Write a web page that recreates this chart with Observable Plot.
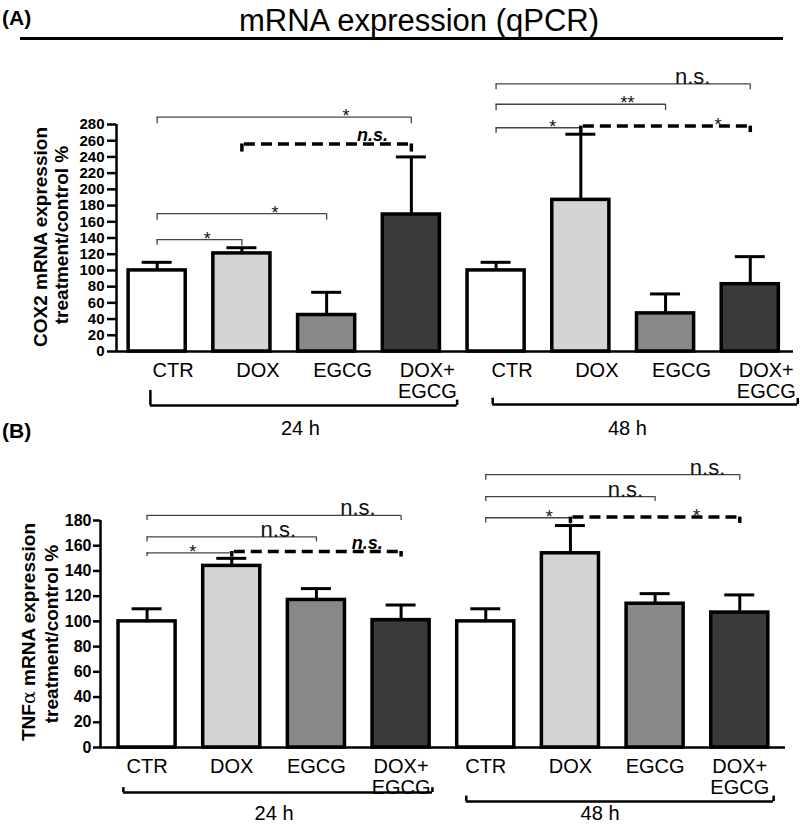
<!DOCTYPE html>
<html>
<head>
<meta charset="utf-8">
<script src="https://cdn.jsdelivr.net/npm/d3@7"></script>
<script src="https://cdn.jsdelivr.net/npm/@observablehq/plot@0.6"></script>
<style>
  body { margin: 0; background: #fff; font-family: "Liberation Sans", Arial, sans-serif; }
  #page { position: relative; width: 800px; height: 824px; overflow: hidden; background: #fff; }
  .abs { position: absolute; line-height: 1; white-space: nowrap; color: #000; }
  .ylab { position: absolute; font-weight: bold; font-size: 19px; line-height: 1; white-space: nowrap;
          transform: translate(-50%, -50%) rotate(-90deg); color: #000; }
</style>
</head>
<body>
<div id="page">
  <div class="abs" style="left:2px;top:7px;font-weight:bold;font-size:21px;">(A)</div>
  <div class="abs" style="left:0;top:5px;width:838px;text-align:center;font-size:31px;">mRNA expression (qPCR)</div>
  <div class="abs" style="left:20px;top:37px;width:763px;height:3px;background:#000;"></div>
  <div id="plotA" class="abs" style="left:0;top:40px;"></div>
  <div class="abs" style="left:2px;top:420px;font-weight:bold;font-size:21px;">(B)</div>
  <div id="plotB" class="abs" style="left:0;top:445px;"></div>
  <div class="ylab" style="left:40px;top:237px;">COX2 mRNA expression</div>
  <div class="ylab" style="left:61px;top:235px;">treatment/control %</div>
  <div class="ylab" style="left:28px;top:632px;">TNF<span style="font-family:'DejaVu Serif',serif;font-weight:normal;">α</span> mRNA expression</div>
  <div class="ylab" style="left:51px;top:634px;">treatment/control %</div>
</div>
<script>
// ---------- data ----------
const treatments = ["CTR", "DOX", "EGCG", "DOX+\nEGCG"];
const timepoints = ["24 h", "48 h"];

// COX2 (panel A): mean and SEM, order CTR, DOX, EGCG, DOX+EGCG at 24 h then 48 h
const cox2Mean = [100, 121, 45, 169, 100, 187, 47, 83];
const cox2Sem  = [10, 7, 28, 71, 10, 81, 24, 34];
// TNFα (panel B)
const tnfMean = [100, 144, 117, 101, 100, 154, 114, 107];
const tnfSem  = [10, 6, 9, 12, 10, 22, 8, 14];

const yTicksA = [0, 20, 40, 60, 80, 100, 120, 140, 160, 180, 200, 220, 240, 260, 280];
const yTicksB = [0, 20, 40, 60, 80, 100, 120, 140, 160, 180];

// significance comparisons: from/to bar index, label, kind
const cox2Comparisons = [
  {from: 0, to: 3, label: "*", kind: "star"},
  {from: 1, to: 3, label: "n.s.", kind: "nsBold"},
  {from: 0, to: 2, label: "*", kind: "star"},
  {from: 0, to: 1, label: "*", kind: "star"},
  {from: 4, to: 7, label: "n.s.", kind: "ns"},
  {from: 4, to: 6, label: "**", kind: "star"},
  {from: 4, to: 5, label: "*", kind: "star"},
  {from: 5, to: 7, label: "*", kind: "starBold"}
];
// bracket heights (y units): level, left tip end, right tip end, label position
const cox2Levels = [
  [289, 281, 281, 2.23], [256, 246, 246, 2.54], [170, 162, 162, 1.39], [138, 131, 130, 0.59],
  [330, 323, 323, 6.32], [305, 297, 297, 5.55], [276, 269, 269, 4.67], [278, 269, 270, 6.62]
];
const tnfComparisons = [
  {from: 0, to: 3, label: "n.s.", kind: "ns"},
  {from: 0, to: 2, label: "n.s.", kind: "ns"},
  {from: 0, to: 1, label: "*", kind: "star"},
  {from: 1, to: 3, label: "n.s.", kind: "nsBold"},
  {from: 4, to: 7, label: "n.s.", kind: "ns"},
  {from: 4, to: 6, label: "n.s.", kind: "ns"},
  {from: 4, to: 5, label: "*", kind: "star"},
  {from: 5, to: 7, label: "*", kind: "starBold"}
];
const tnfLevels = [
  [184, 180, 180, 2.49], [167, 163, 163, 1.55], [154.4, 151.5, 150, 0.54], [155.4, 151, 151, 2.6],
  [216.4, 212, 212, 6.62], [199, 195, 195, 5.65], [182.2, 178, 176, 4.75], [182.7, 177.7, 177.7, 6.49]
];
// time-group brackets below the axis: [from, to, level, left tip, right tip, label x, label level]
const groupA = [[-0.08, 3.54, -66.6, -48, -60, 1.69, -85], [3.96, 7.56, -65.4, -57.6, -58, 5.55, -85]];
const groupB = [[-0.28, 3.37, -35.7, -31.8, -31.8, 1.5, -46], [3.77, 7.4, -42.9, -38.5, -38.5, 5.35, -46]];

// ---------- styles ----------
const fills = {"CTR": "#ffffff", "DOX": "#d4d4d4", "EGCG": "#888888", "DOX+\nEGCG": "#3a3a3a"};
const BAR_HALF = 0.337, CAP_HALF = 0.177;
const FONT = "Liberation Sans, Arial, sans-serif";

function makeRows(means, sems) {
  return means.map((m, i) => ({i, treatment: treatments[i % 4], time: timepoints[Math.floor(i / 4)], mean: m, sem: sems[i]}));
}
function makeBrackets(comps, levels) {
  return comps.map((c, k) => ({...c, level: levels[k][0], tipL: levels[k][1], tipR: levels[k][2], labelAt: levels[k][3],
    dashed: c.kind === "nsBold" || c.kind === "starBold"}));
}
function makeGroups(g) {
  return g.map((r, k) => ({from: r[0], to: r[1], level: r[2], tipL: r[3], tipR: r[4], labelAt: r[5], labelLevel: r[6], label: timepoints[k]}));
}

function panel({rows, brackets, groups, yTicks, yMax, xDomain, height, marginTop, marginBottom, marginLeft, marginRight, labelDx, tickSize, tickPadding, tickFont}) {
  const tips = brackets.flatMap(b => [
    {x: b.from, y1: b.level, y2: b.tipL, dashed: b.dashed},
    {x: b.to, y1: b.level, y2: b.tipR, dashed: b.dashed}
  ]);
  const gtips = groups.flatMap(g => [{x: g.from, y1: g.level, y2: g.tipL}, {x: g.to, y1: g.level, y2: g.tipR}]);
  const solid = brackets.filter(b => !b.dashed), dashed = brackets.filter(b => b.dashed);
  return Plot.plot({
    width: 800, height, marginTop, marginBottom, marginLeft, marginRight,
    style: {background: "transparent", overflow: "visible", fontFamily: FONT, color: "#000"},
    x: {type: "linear", domain: xDomain, axis: null},
    y: {domain: [0, yMax], axis: null},
    marks: [
      // bars
      Plot.rect(rows, {x1: d => d.i - BAR_HALF, x2: d => d.i + BAR_HALF, y1: 0, y2: "mean",
        fill: d => fills[d.treatment], stroke: "#000", strokeWidth: 3.5}),
      // error bars (upper)
      Plot.ruleX(rows, {x: "i", y1: "mean", y2: d => d.mean + d.sem, stroke: "#000", strokeWidth: 3}),
      Plot.ruleY(rows, {y: d => d.mean + d.sem, x1: d => d.i - CAP_HALF, x2: d => d.i + CAP_HALF, stroke: "#000", strokeWidth: 3}),
      // axes
      Plot.ruleY([0], {stroke: "#000", strokeWidth: 2.5}),
      Plot.ruleX([xDomain[0]], {y1: 0, y2: yMax, stroke: "#000", strokeWidth: 2.5}),
      Plot.axisY(yTicks, {anchor: "left", tickSize, tickPadding, fontSize: tickFont, fontWeight: "bold",
        strokeWidth: 2.5, label: null, fill: "#000"}),
      Plot.text(rows, {x: "i", y: 0, text: "treatment", lineAnchor: "top", dy: 11, dx: labelDx,
        fontSize: 20, lineHeight: 1.05, fill: "#000"}),
      // significance brackets
      Plot.ruleY(solid, {y: "level", x1: "from", x2: "to", stroke: "#444", strokeWidth: 1.3}),
      Plot.ruleX(tips.filter(t => !t.dashed), {x: "x", y1: "y1", y2: "y2", stroke: "#444", strokeWidth: 1.3}),
      Plot.ruleY(dashed, {y: "level", x1: d => d.from + 0.03, x2: "to", stroke: "#000", strokeWidth: 3.5, strokeDasharray: "11,6"}),
      Plot.ruleX(tips.filter(t => t.dashed), {x: "x", y1: "y1", y2: "y2", stroke: "#000", strokeWidth: 3.5}),
      Plot.text(brackets.filter(b => b.kind === "star" || b.kind === "starBold"), {x: "labelAt", y: "level", text: "label",
        lineAnchor: "bottom", dy: 5, fontSize: 18, fill: "#111"}),
      Plot.text(brackets.filter(b => b.kind === "ns"), {x: "labelAt", y: "level", text: "label",
        lineAnchor: "bottom", dy: 0, fontSize: 22, fill: "#111"}),
      Plot.text(brackets.filter(b => b.kind === "nsBold"), {x: "labelAt", y: "level", text: "label",
        lineAnchor: "bottom", dy: -3, fontSize: 18, fontWeight: "bold", fontStyle: "italic", fill: "#000"}),
      // time-group brackets
      Plot.ruleY(groups, {y: "level", x1: "from", x2: "to", stroke: "#000", strokeWidth: 2.5}),
      Plot.ruleX(gtips, {x: "x", y1: "y1", y2: "y2", stroke: "#000", strokeWidth: 2.5}),
      Plot.text(groups, {x: "labelAt", y: "labelLevel", text: "label", lineAnchor: "top", fontSize: 20, fill: "#000"})
    ]
  });
}

document.getElementById("plotA").append(panel({
  rows: makeRows(cox2Mean, cox2Sem),
  brackets: makeBrackets(cox2Comparisons, cox2Levels),
  groups: makeGroups(groupA),
  yTicks: yTicksA, yMax: 280, xDomain: [-0.48, 7.51],
  height: 400, marginTop: 84, marginBottom: 89, marginLeft: 116, marginRight: 7, labelDx: 16,
  tickSize: 9, tickPadding: 3, tickFont: 15
}));
document.getElementById("plotB").append(panel({
  rows: makeRows(tnfMean, tnfSem),
  brackets: makeBrackets(tnfComparisons, tnfLevels),
  groups: makeGroups(groupB),
  yTicks: yTicksB, yMax: 180, xDomain: [-0.55, 7.54],
  height: 379, marginTop: 75, marginBottom: 77, marginLeft: 100, marginRight: 15, labelDx: 0,
  tickSize: 7, tickPadding: 2, tickFont: 16
}));
</script>
</body>
</html>
